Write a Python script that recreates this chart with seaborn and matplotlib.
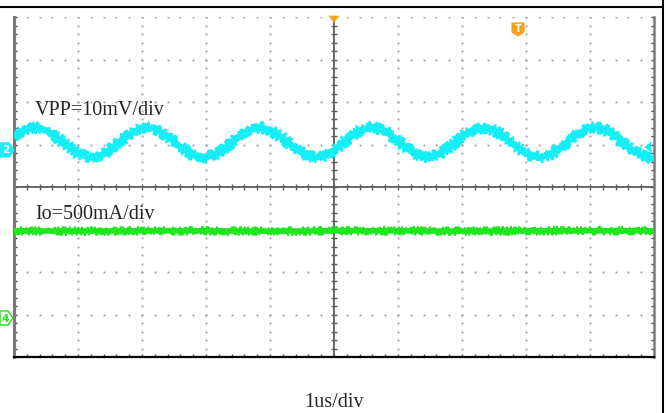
import numpy as np
import pandas as pd
import seaborn as sns
import matplotlib.pyplot as plt
from matplotlib.patches import Polygon
from matplotlib.lines import Line2D

# scope screen, units = divisions (x: 1us/div, y: per-channel scale)
t_ch2 = np.linspace(0, 10, 51)
vpp_ch2 = [1.21, 1.37, 1.40, 1.25, 1.01, 0.78, 0.69, 0.77, 1.00, 1.24,
           1.40, 1.38, 1.20, 0.94, 0.75, 0.70, 0.80, 1.04, 1.28, 1.41,
           1.35, 1.15, 0.89, 0.72, 0.70, 0.86, 1.11, 1.33, 1.41, 1.32,
           1.09, 0.84, 0.70, 0.74, 0.93, 1.19, 1.37, 1.40, 1.25, 1.00,
           0.78, 0.69, 0.78, 1.00, 1.24, 1.40, 1.38, 1.20, 0.94, 0.75,
           0.66]
t_ch4 = [0, 1, 2, 3, 4, 5, 6, 7, 8, 9, 10]
io_ch4 = [-1.03, -1.04, -1.03, -1.03, -1.04, -1.03, -1.03, -1.04, -1.03, -1.03, -1.03]

label_ch2 = "VPP=10mV/div"
label_ch4 = "Io=500mA/div"
label_time = "1us/div"

CYAN = "#14eef6"
GREEN = "#1fe61f"
ORANGE = "#f7a21b"
W, H = 666, 413

sns.set_style("white")
plt.rcParams['font.family'] = ['Liberation Serif', 'DejaVu Serif']

fig = plt.figure(figsize=(W / 100, H / 100), dpi=100)
ax = fig.add_axes([14 / W, 1 - 357 / H, 640 / W, 340 / H])
ax.set_xlim(0, 10)
ax.set_ylim(-4, 4)


def px(x, y):
    # pixel position -> figure fraction
    return (x / W, 1 - y / H)


# dotted graticule
ys = np.arange(-4, 4.01, 0.2)
xs = np.arange(0, 10.01, 0.2)
for gx in [1, 2, 3, 4, 6, 7, 8, 9]:
    ax.plot(np.full(len(ys), gx), ys, ls='none', marker='s', ms=1.3, mew=0, color='#9a9a9a')
for gy in [-3, -2, -1, 1, 2, 3, 4]:
    ax.plot(xs, np.full(len(xs), gy), ls='none', marker='s', ms=1.3, mew=0, color='#9a9a9a')

# centre cross with ticks
ax.axvline(5, color='#5a5a5a', lw=1.3, zorder=1)
ax.axhline(0, color='#5a5a5a', lw=1.3, zorder=1)
ax.plot(np.full(len(ys), 5), ys, ls='none', marker='_', ms=4, mew=1, color='#5a5a5a')
ax.plot(xs, np.zeros(len(xs)), ls='none', marker='|', ms=4, mew=1, color='#5a5a5a')

# traces: solid core plus a jittered (sketch-style) copy for the noisy edge
sns.lineplot(x=t_ch2, y=vpp_ch2, color=CYAN, lw=4.6, ax=ax, zorder=3,
             solid_joinstyle='round', solid_capstyle='butt')
sns.lineplot(x=t_ch2, y=vpp_ch2, color=CYAN, lw=1.8, ax=ax, zorder=3,
             solid_capstyle='butt')
ax.lines[-1].set_sketch_params(scale=5.5, length=2, randomness=2)
sns.lineplot(x=t_ch4, y=io_ch4, color=GREEN, lw=4.0, ax=ax, zorder=3,
             solid_capstyle='butt')
sns.lineplot(x=t_ch4, y=io_ch4, color=GREEN, lw=1.5, ax=ax, zorder=3,
             solid_capstyle='butt')
ax.lines[-1].set_sketch_params(scale=4, length=2, randomness=2)

# frame / ticks
ax.set_xticks(range(11))
ax.set_yticks(range(-4, 5))
ax.set_xticks(xs, minor=True)
ax.set_yticks(ys, minor=True)
ax.set_xticklabels([])
ax.set_yticklabels([])
ax.tick_params(which='both', direction='in', length=2.5, width=1, color='#444444',
               left=True, right=True, bottom=True, top=False)
ax.spines['top'].set_visible(False)
ax.spines['left'].set_color('#7a7a7a')
ax.spines['left'].set_linewidth(2.2)
ax.spines['right'].set_color('#7a7a7a')
ax.spines['right'].set_linewidth(1.8)
ax.spines['bottom'].set_color('black')
ax.spines['bottom'].set_linewidth(1.6)

# channel labels
fig.text(*px(35, 115), label_ch2, fontsize=14.5, va='baseline', ha='left')
fig.text(*px(35, 219), label_ch4, fontsize=14.5, va='baseline', ha='left')
fig.text(*px(334, 407), label_time, fontsize=14.5, va='baseline', ha='center')

# channel markers on the left
m2 = [px(0, 143), px(9, 143), px(14, 150), px(9, 157), px(0, 157)]
fig.add_artist(Polygon(m2, closed=True, transform=fig.transFigure, fc=CYAN, ec=CYAN, lw=1))
fig.text(*px(5.5, 150.5), "2", fontsize=7.5, color='white', ha='center', va='center',
         family='DejaVu Sans', weight='bold')
m4 = [px(0, 311), px(8, 311), px(13, 318), px(8, 325), px(0, 325)]
fig.add_artist(Polygon(m4, closed=True, transform=fig.transFigure, fc='white', ec=GREEN, lw=1))
fig.text(*px(5, 318.5), "4", fontsize=7.5, color=GREEN, ha='center', va='center',
         family='DejaVu Sans', weight='bold')

# right-edge channel 2 marker
fig.add_artist(Polygon([px(645, 147), px(651, 142), px(651, 152)], closed=True,
                       transform=fig.transFigure, fc=CYAN, ec=CYAN, lw=0.5))

# trigger markers
fig.add_artist(Polygon([px(329, 16), px(339, 16), px(334, 22)], closed=True,
                       transform=fig.transFigure, fc=ORANGE, ec=ORANGE, lw=0.5))
fig.add_artist(Polygon([px(512, 23), px(524, 23), px(524, 32), px(518, 36), px(512, 32)],
                       closed=True, transform=fig.transFigure, fc=ORANGE, ec=ORANGE, lw=0.8))
fig.text(*px(518, 29), "T", fontsize=7, color='white', ha='center', va='center',
         family='DejaVu Sans', weight='bold')

# outer border lines
fig.add_artist(Line2D([0, 663 / W], [1 - 7 / H, 1 - 7 / H], transform=fig.transFigure,
                      color='black', lw=1.5))
fig.add_artist(Line2D([663 / W, 663 / W], [0, 1], transform=fig.transFigure,
                      color='black', lw=1.5))

fig.savefig('out.png', dpi=100)
